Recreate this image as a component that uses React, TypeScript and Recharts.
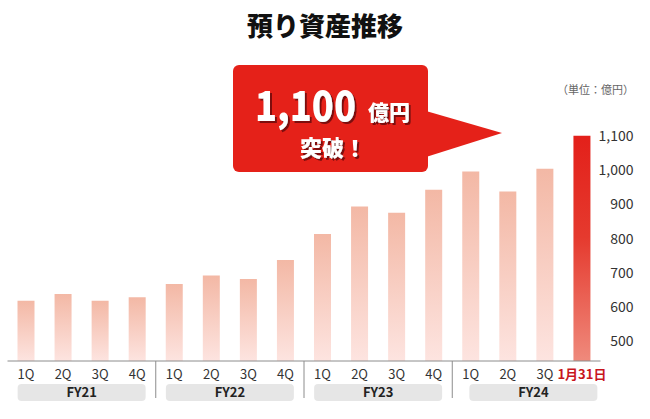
import React from "react";
import { BarChart, Bar, XAxis, YAxis, Cell } from "recharts";

const quarters = ["1Q", "2Q", "3Q", "4Q", "1Q", "2Q", "3Q", "4Q", "1Q", "2Q", "3Q", "4Q", "1Q", "2Q", "3Q", "1月31日"];
const fiscalYears = ["FY21", "FY21", "FY21", "FY21", "FY22", "FY22", "FY22", "FY22", "FY23", "FY23", "FY23", "FY23", "FY24", "FY24", "FY24", "FY24"];
const assets = [617, 637, 617, 627, 666, 691, 681, 737, 813, 894, 876, 943, 997, 938, 1005, 1102];
const yTicks = [500, 600, 700, 800, 900, 1000, 1100];

const data = quarters.map((q, i) => ({ q, fy: fiscalYears[i], v: assets[i] }));

const FONT = '"Noto Sans CJK JP", "Noto Sans", sans-serif';
const RED = "#e52119";

const QTick = (props: any) => {
  const { x, y, payload } = props;
  const i = payload?.index ?? props.index ?? 0;
  const half = payload?.offset || 18.53;
  const band = half * 2;
  const isLast = i === data.length - 1;
  const groupStart = i % 4 === 0;
  const boxW = 128;
  const groupCenter = x - half + band * 2 + (i === 12 ? 7 : 0);
  return (
    <g>
      <text
        x={x}
        y={y + 18}
        textAnchor="middle"
        fontSize={13}
        fontFamily={FONT}
        fontWeight={isLast ? 700 : 400}
        fill={isLast ? "#c8161d" : "#333"}
      >
        {payload.value}
      </text>
      {groupStart && i > 0 && (
        <line x1={x - half} x2={x - half} y1={y} y2={y + 37} stroke="#8c8c8c" strokeWidth={1} />
      )}
      {groupStart && (
        <g>
          <rect x={groupCenter - boxW / 2} y={y + 23} width={boxW} height={17} rx={4} fill="#e6e6e6" />
          <text
            x={groupCenter}
            y={y + 35.5}
            textAnchor="middle"
            fontSize={13}
            fontWeight={700}
            fontFamily={FONT}
            fill="#222"
          >
            {data[i].fy}
          </text>
        </g>
      )}
    </g>
  );
};

const YTick = ({ x, y, payload }: any) => (
  <text x={x + 33} y={y + 5} textAnchor="end" fontSize={14} fontFamily={FONT} fill="#333">
    {payload.value.toLocaleString("en-US")}
  </text>
);

function Callout() {
  return (
    <svg width={650} height={419} style={{ position: "absolute", left: 0, top: 0, pointerEvents: "none" }}>
      <defs>
        <filter id="hardShadow" x="-10%" y="-10%" width="130%" height="140%">
          <feDropShadow dx="2" dy="2" stdDeviation="0.4" floodColor="#7d0a0a" floodOpacity="1" />
        </filter>
      </defs>
      <text x={325} y={36} textAnchor="middle" fontSize={26} fontWeight={900} fontFamily={FONT} fill="#111">
        預り資産推移
      </text>
      <text x={634} y={94} textAnchor="end" fontSize={11} fontFamily={FONT} fill="#666">
        （単位：億円）
      </text>
      <rect x={233} y={65} width={195} height={107} rx={6} fill={RED} />
      <polygon points="426,111 502,133 426,157" fill={RED} />
      <g fontFamily={FONT} fontWeight={900} fill="#fff" filter="url(#hardShadow)">
        <text x={255} y={121} fontSize={42} textLength={101} lengthAdjust="spacingAndGlyphs">1,100</text>
        <text x={368} y={120} fontSize={21}>億円</text>
        <text x={300} y={156} fontSize={22}>突破！</text>
      </g>
    </svg>
  );
}

export default function App() {
  return (
    <div style={{ position: "relative", width: 650, height: 419, background: "#fff", fontFamily: FONT }}>
      <style>{`body{margin:0}`}</style>
      <div style={{ position: "absolute", left: 0, top: 0 }}>
        <BarChart
          width={650}
          height={419}
          data={data}
          margin={{ top: 116, right: 7.5, bottom: 8, left: 7.5 }}
        >
          <defs>
            <linearGradient id="pinkGrad" x1="0" y1="0" x2="0" y2="1">
              <stop offset="0%" stopColor="#f3b8a5" />
              <stop offset="100%" stopColor="#fde4e0" />
            </linearGradient>
            <linearGradient id="redGrad" x1="0" y1="0" x2="0" y2="1">
              <stop offset="0%" stopColor="#e3201a" />
              <stop offset="45%" stopColor="#e53a2e" />
              <stop offset="100%" stopColor="#ef8a7c" />
            </linearGradient>
          </defs>
          <XAxis
            dataKey="q"
            interval={0}
            tickLine={false}
            tickSize={0}
            tickMargin={0}
            height={50}
            axisLine={{ stroke: "#8c8c8c" }}
            tick={<QTick />}
          />
          <YAxis
            orientation="right"
            width={42}
            domain={[440, 1160]}
            ticks={yTicks}
            axisLine={false}
            tickLine={false}
            tickSize={0}
            tickMargin={0}
            tick={<YTick />}
          />
          <Bar dataKey="v" barSize={17} isAnimationActive={false} fill="url(#pinkGrad)">
            {data.map((_, i) => (
              <Cell key={i} fill={i === data.length - 1 ? "url(#redGrad)" : "url(#pinkGrad)"} />
            ))}
          </Bar>
        </BarChart>
      </div>
      <Callout />
    </div>
  );
}
